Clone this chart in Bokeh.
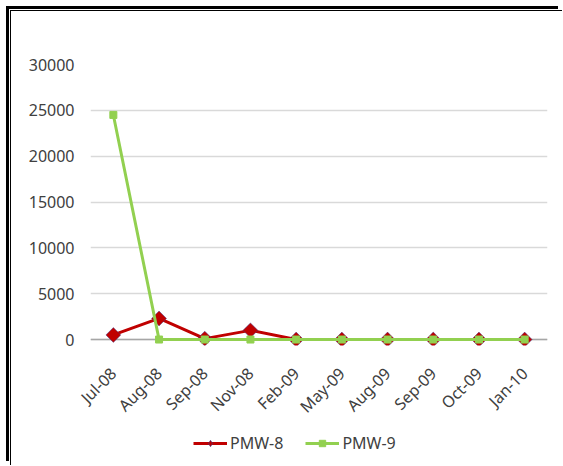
import math
from bokeh.plotting import figure
from bokeh.layouts import column
from bokeh.models import (Range1d, FixedTicker, Span, Legend, LegendItem,
                          ColumnDataSource, FactorRange)
from bokeh.embed import file_html
from bokeh.resources import INLINE

months = ["Jul-08", "Aug-08", "Sep-08", "Nov-08", "Feb-09",
          "May-09", "Aug-09", "Sep-09", "Oct-09", "Jan-10"]
pmw8 = [500, 2300, 100, 1000, 0, 0, 0, 0, 0, 0]
pmw9 = [24500, 0, 0, 0, 0, 0, 0, 0, 0, 0]
y_ticks = [0, 5000, 10000, 15000, 20000, 25000, 30000]
series_names = ["PMW-8", "PMW-9"]

RED = "#c00000"
GREEN = "#92d050"
TXT = "#404040"
FONT = "Noto Sans"

src = ColumnDataSource(dict(m=months, a=pmw8, b=pmw9))

p = figure(x_range=FactorRange(*months), y_range=Range1d(-650, 30000),
           width=552, height=418, output_backend="svg", toolbar_location=None,
           min_border_left=79, min_border_right=16, min_border_top=53,
           min_border_bottom=84)
p.outline_line_color = None
p.background_fill_color = "white"
p.border_fill_color = "white"

p.xgrid.grid_line_color = None
p.ygrid.ticker = FixedTicker(ticks=y_ticks)
p.ygrid.grid_line_color = "#d9d9d9"
p.ygrid.grid_line_width = 1.5

zero = Span(location=0, dimension="width", line_color="#a6a6a6",
            line_width=1.5, level="underlay")
p.add_layout(zero)

p.line("m", "a", source=src, line_color=RED, line_width=3)
p.scatter("m", "a", source=src, marker="square", angle=math.pi / 4,
          size=10.5, fill_color=RED, line_color="#3b3b8f",
          line_alpha=0.6, line_width=0.8)
p.line("m", "b", source=src, line_color=GREEN, line_width=3)
p.scatter("m", "b", source=src, marker="square", size=7,
          fill_color=GREEN, line_color=GREEN)

ya = p.yaxis[0]
ya.ticker = FixedTicker(ticks=y_ticks)
ya.axis_line_color = None
ya.major_tick_line_color = None
ya.minor_tick_line_color = None
ya.major_tick_in = 0
ya.major_tick_out = 0
ya.major_label_standoff = 16
ya.major_label_text_font = FONT
ya.major_label_text_font_size = "16px"
ya.major_label_text_color = TXT

xa = p.xaxis[0]
xa.axis_line_color = None
xa.major_tick_line_color = None
xa.minor_tick_line_color = None
xa.major_tick_in = 0
xa.major_tick_out = 0
xa.major_label_standoff = 25
xa.major_label_orientation = math.pi / 4
xa.major_label_text_font = FONT
xa.major_label_text_font_size = "16px"
xa.major_label_text_color = TXT

# legend strip below the chart: same series drawn out of view, legend only
lg = figure(width=552, height=37, output_backend="svg", toolbar_location=None,
            x_range=FactorRange(*months), y_range=Range1d(1e6, 2e6),
            x_axis_location=None, y_axis_location=None,
            min_border=0, min_border_left=0, min_border_right=0,
            min_border_top=0, min_border_bottom=0)
lg.grid.visible = False
lg.outline_line_color = None
lg.border_fill_color = "white"
lg.background_fill_color = "white"
l8l = lg.line("m", "a", source=src, line_color=RED, line_width=3)
l8m = lg.scatter("m", "a", source=src, marker="diamond", size=10,
                 fill_color=RED, line_color="#3b3b8f", line_alpha=0.6)
l9l = lg.line("m", "b", source=src, line_color=GREEN, line_width=3)
l9m = lg.scatter("m", "b", source=src, marker="square", size=5,
                 fill_color=GREEN, line_color=GREEN)
legend = Legend(items=[LegendItem(label=series_names[0], renderers=[l8l, l8m]),
                       LegendItem(label=series_names[1], renderers=[l9l, l9m])],
                orientation="horizontal", location=(103, 12),
                glyph_width=34, glyph_height=16, label_standoff=3,
                spacing=22, padding=0, margin=0,
                border_line_color=None, background_fill_alpha=0,
                label_text_font=FONT, label_text_font_size="16px",
                label_text_color=TXT)
lg.add_layout(legend, "center")

layout = column(p, lg, spacing=0)
layout.styles = {"position": "relative", "left": "11px", "top": "11px",
                 "box-shadow": "-1px -1px 0 0 #000, -2px -2px 0 0 #fff, -5px -5px 0 0 #000"}

open("out.html", "w").write(file_html(layout, INLINE))
